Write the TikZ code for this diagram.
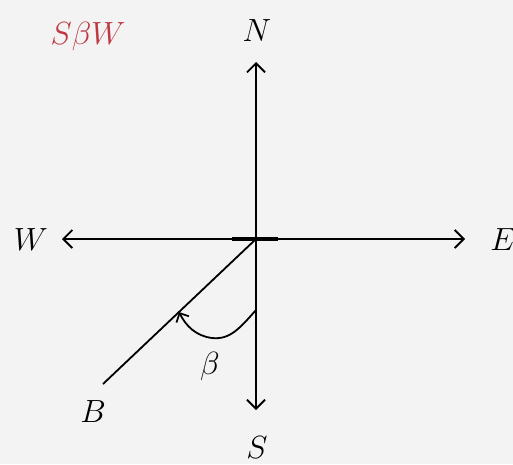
\documentclass[tikz,border=0pt]{standalone}
\usetikzlibrary{arrows.meta}
\definecolor{bg}{RGB}{243,243,243}
\definecolor{lbl}{RGB}{190,55,65}
\begin{document}
\begin{tikzpicture}[x=1pt,y=-1pt,
  axis/.style={line width=1.8pt,-{Straight Barb[length=9pt,width=18pt,line width=1.8pt]}},
  lab/.style={font=\Huge, scale=1.29, inner sep=0pt}]
\fill[bg] (0,0) rectangle (513,464);
\useasboundingbox (0,0) rectangle (513,464);
\coordinate (O) at (256,239);
\coordinate (Nt) at (256,62);
\coordinate (St) at (256,410);
\coordinate (Wt) at (62,239);
\coordinate (Et) at (465,239);
\coordinate (Bt) at (103,384);
\coordinate (hl) at (232,239);
\coordinate (hr) at (278,239);
\coordinate (a0) at (256,310);
\coordinate (a1) at (179,312);
\draw[axis] (O) -- (Nt);
\draw[axis] (O) -- (St);
\draw[axis] (O) -- (Wt);
\draw[axis] (O) -- (Et);
\draw[line width=3.5pt] (hl) -- (hr);
\draw[line width=1.8pt] (O) -- (Bt);
\draw[line width=1.8pt,-{Straight Barb[length=7pt,width=14pt,line width=1.8pt]}] (a0) .. controls (240,328) and (230,340) .. (212,338) .. controls (196,336) and (186,326) .. (a1);
\node[lab] (N) at (257,31) {$N$};
\node[lab] (S) at (257,448) {$S$};
\node[lab] (W) at (31,240) {$W$};
\node[lab] (E) at (503,240) {$E$};
\node[lab] (B) at (93,412) {$B$};
\node[lab] (beta) at (210,366) {$\beta$};
\node[lab,text=lbl] (sbw) at (88,36) {$S\beta W$};
\end{tikzpicture}
\end{document}
